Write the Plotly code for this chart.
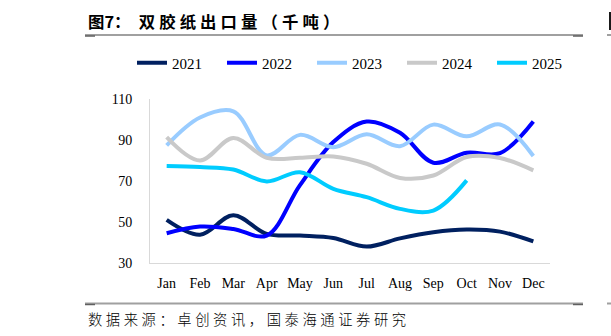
import plotly.graph_objects as go

months = ["Jan", "Feb", "Mar", "Apr", "May", "Jun", "Jul", "Aug", "Sep", "Oct", "Nov", "Dec"]
y2021 = [51.0, 43.8, 53.3, 44.2, 43.4, 42.2, 38.0, 42.0, 45.0, 46.3, 45.3, 40.5]
y2022 = [44.5, 47.8, 46.6, 43.4, 68.0, 89.0, 99.0, 93.5, 78.9, 83.8, 83.6, 99.0]
y2023 = [87.4, 101.0, 104.0, 82.5, 92.5, 86.5, 92.8, 87.0, 97.5, 91.8, 97.6, 82.2]
y2024 = [91.4, 80.0, 91.0, 81.3, 81.3, 82.0, 78.4, 71.5, 72.7, 81.7, 81.2, 75.2]
y2025 = [77.3, 76.8, 75.6, 69.8, 74.3, 66.2, 62.1, 56.4, 55.6, 70.3]
series = [("2021", y2021, "#002060"), ("2022", y2022, "#0000FF"),
          ("2023", y2023, "#99CCFF"), ("2024", y2024, "#C9C9C9"),
          ("2025", y2025, "#00CCFF")]
yticks = [30, 50, 70, 90, 110]

title_head = "图7："
title_body = "双胶纸出口量（千吨）"
source = "数据来源：卓创资讯，国泰海通证券研究"

SP = "\u2005"

fig = go.Figure()
for name, vals, col in series:
    fig.add_trace(go.Scatter(x=months[:len(vals)], y=vals, name=name, mode="lines",
                             line=dict(color=col, width=4, shape="spline", smoothing=1.0)))

L, R, T, B = 150, 550, 99, 263
W, H = 611, 336
def px(x):
    return (x - L) / (R - L)
def py(y):
    return (B - y) / (B - T)

serif = "'Times New Roman', 'Liberation Serif', serif"
cjk = "Noto Sans CJK SC"

fig.update_layout(
    width=W, height=H,
    margin=dict(l=L, r=W - R, t=T, b=H - B, pad=0),
    paper_bgcolor="white", plot_bgcolor="white",
    font=dict(family=serif, size=14, color="black"),
    showlegend=True,
    legend=dict(orientation="h", x=px(132), xanchor="left", y=py(63), yanchor="middle",
                font=dict(family=serif, size=15, color="black"),
                entrywidth=45, entrywidthmode="pixels", bgcolor="rgba(0,0,0,0)",
                itemclick=False),
    xaxis=dict(type="category", categoryorder="array", categoryarray=months,
               range=[-0.5, 11.5], showgrid=False, zeroline=False,
               showline=True, linecolor="#D9D9D9", linewidth=1,
               ticks="", tickfont=dict(family=serif, size=14, color="black"),
               ticklabelstandoff=7),
    yaxis=dict(range=[30, 110], tickvals=yticks, showgrid=False, zeroline=False,
               showline=True, linecolor="#D9D9D9", linewidth=1,
               ticks="", tickfont=dict(family=serif, size=14, color="black"),
               ticklabelstandoff=14),
)

title_text = title_head + SP + SP + SP.join(title_body)
ann = []
ann.append(dict(text="<b>" + title_text + "</b>", xref="paper", yref="paper",
                x=px(86), y=py(21), xanchor="left", yanchor="middle", showarrow=False,
                font=dict(family=cjk, size=16.4, color="black")))
ann.append(dict(text=SP.join(source), xref="paper", yref="paper", x=px(86), y=py(318),
                xanchor="left", yanchor="middle", showarrow=False,
                font=dict(family=cjk, size=14.3, color="black", weight=300)))
fig.update_layout(annotations=ann)

shapes = []
for yy in (35, 303.5):
    shapes.append(dict(type="line", xref="paper", yref="paper", x0=px(85), x1=px(583),
                       y0=py(yy), y1=py(yy), line=dict(color="#A0A0A0", width=2)))
    shapes.append(dict(type="line", xref="paper", yref="paper", x0=px(607), x1=px(640),
                       y0=py(yy), y1=py(yy), line=dict(color="#A0A0A0", width=2)))
    for a, b in ((85, 95), (573, 583)):
        shapes.append(dict(type="line", xref="paper", yref="paper", x0=px(a), x1=px(b),
                           y0=py(yy + 1), y1=py(yy + 1), line=dict(color="#606060", width=1.5)))
# clipped edge of the neighbouring figure's title
shapes.append(dict(type="rect", xref="paper", yref="paper", x0=px(609), x1=px(612),
                   y0=py(30), y1=py(12), line=dict(width=0), fillcolor="#1A1A1A"))
fig.update_layout(shapes=shapes)

fig.write_html("out.html")
